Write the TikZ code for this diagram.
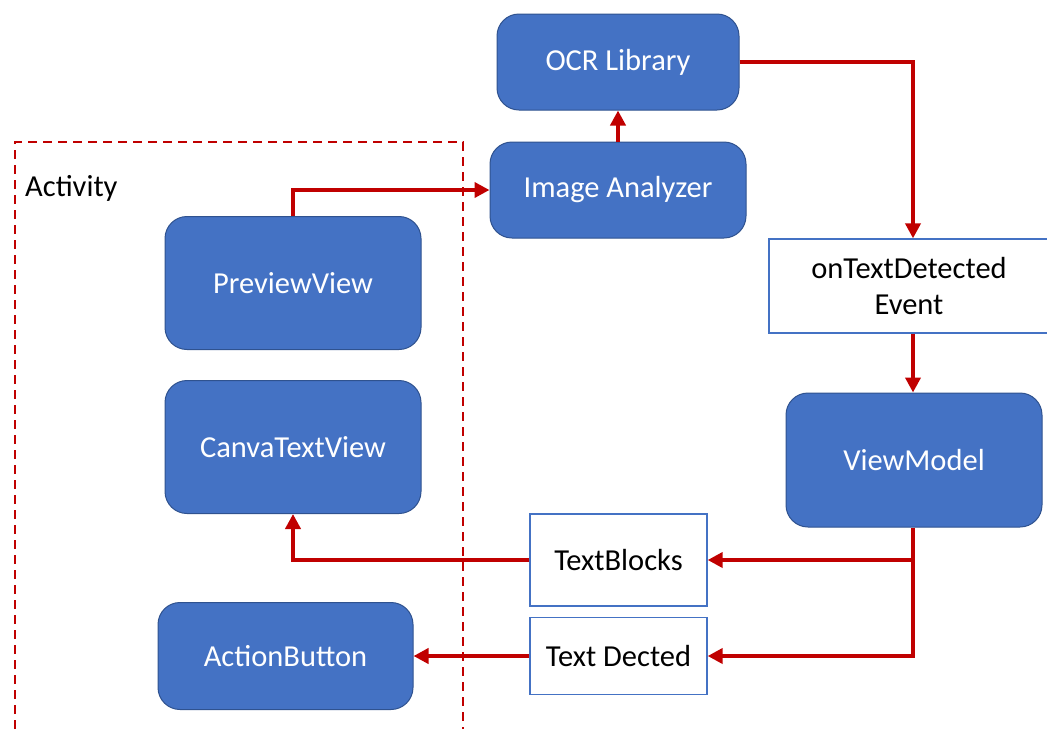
\documentclass[tikz,border=0pt]{standalone}
\usepackage{fontspec}
\setmainfont{Carlito}
\usetikzlibrary{arrows.meta}
\definecolor{boxblue}{HTML}{4472C4}
\definecolor{boxedge}{HTML}{2F528F}
\definecolor{flowred}{HTML}{C00000}
\tikzset{
  comp/.style={draw=boxedge, line width=1pt, fill=boxblue, rounded corners=22pt,
    text=white, font=\fontsize{30.5}{36}\selectfont, inner sep=0pt},
  msg/.style={draw=boxblue, line width=1.3pt, fill=white, text=black,
    font=\fontsize{30.5}{36}\selectfont, align=center, inner sep=0pt},
  flow/.style={draw=flowred, line width=4pt,
    -{Triangle[length=15pt, width=15pt]}},
}
\begin{document}
\begin{tikzpicture}[x=1pt, y=-1pt]
\useasboundingbox (0,0) rectangle (1047,729);

% activity boundary
\draw[flowred, line width=2pt, dash pattern=on 9pt off 6pt] (15,729) -- (15,142) -- (463,142) -- (463,729);
\node[anchor=west, font=\fontsize{30.5}{36}\selectfont, inner sep=0pt] (act) at (25,188) {Activity};

% components
\node[comp, minimum width=242pt, minimum height=96pt] (ocr) at (618,62) {OCR Library};
\node[comp, minimum width=256pt, minimum height=96pt] (ana) at (618,190) {Image Analyzer};
\node[comp, minimum width=256pt, minimum height=133pt] (prev) at (293,283) {PreviewView};
\node[comp, minimum width=256pt, minimum height=133pt] (canva) at (293,447) {CanvaTextView};
\node[comp, minimum width=255pt, minimum height=107pt] (btn) at (285.5,656) {ActionButton};
\node[comp, minimum width=256pt, minimum height=134pt] (vm) at (914,460) {ViewModel};

% messages
\node[msg, minimum width=280pt, minimum height=94pt] (evt) at (909,286) {onTextDetected\\Event};
\node[msg, minimum width=177pt, minimum height=92pt] (blocks) at (618.5,560) {TextBlocks};
\node[msg, minimum width=177pt, minimum height=77pt] (det) at (618.5,656) {Text Dected};

% bend points
\coordinate (p1) at (293,190);
\coordinate (p2) at (913,62);
\coordinate (p3) at (913,560);
\coordinate (p4) at (913,656);
\coordinate (p5) at (293,560);

% connectors
\draw[flow] (prev.north) -- (p1) -- (ana.west);
\draw[flow] (ana.north) -- (ocr.south);
\draw[flow] (ocr.east) -- (p2) -- (p2 |- evt.north);
\draw[flow] (p2 |- evt.south) -- (p2 |- vm.north);
\draw[flow] (p2 |- vm.south) -- (p4) -- (det.east);
\draw[flow] (p3) -- (blocks.east);
\draw[flow] (blocks.west) -- (p5) -- (canva.south);
\draw[flow] (det.west) -- (btn.east);
\end{tikzpicture}
\end{document}
